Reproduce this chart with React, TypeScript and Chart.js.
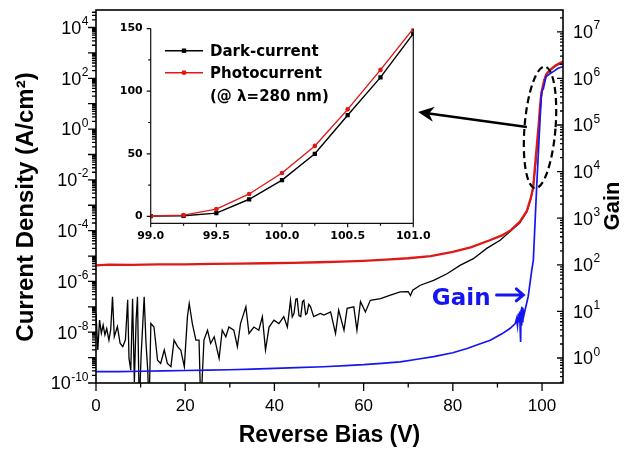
import React, { useEffect, useRef } from 'react';
import { Chart, registerables } from 'chart.js';

Chart.register(...registerables);

// ---------------- main plot data ----------------
const darkV = [
  0.0, 0.4, 0.8, 1.2, 1.6, 2.0, 2.4, 2.9, 3.3, 3.7,
  4.1, 4.8, 5.4, 6.0, 6.6, 7.1, 7.4, 7.8, 8.2, 8.6,
  9.0, 9.3, 9.7, 10.1, 10.8, 11.2, 11.6, 11.9, 12.3, 13.0,
  13.8, 14.5, 15.3, 16.0, 16.8, 17.5, 18.3, 19.0, 19.8, 20.5,
  20.9, 21.6, 22.4, 23.1, 23.5, 24.2, 25.0, 25.7, 26.5, 27.6,
  28.3, 29.1, 29.8, 30.9, 31.7, 32.4, 33.6, 34.3, 35.4, 36.5,
  37.3, 38.0, 38.8, 39.9, 41.0, 42.1, 42.9, 43.6, 44.0, 44.4,
  44.8, 45.1, 45.5, 45.9, 46.3, 46.6, 47.0, 47.3, 47.7, 48.1,
  48.8, 50.3, 51.1, 52.6, 53.7, 54.4, 55.6, 56.3, 57.8, 58.5,
  59.3, 60.4, 61.5, 63.8, 66.0, 68.2, 70.0, 70.5, 71.0, 72.7,
  75.7, 78.7, 81.7, 84.6, 87.6, 90.6, 93.2, 95.0, 96.6, 97.5,
  98.0, 98.5, 99.0, 99.25, 99.5, 99.75, 100.0, 100.25, 100.5, 100.75,
  101.0, 102.0, 103.0, 104.0, 104.8,
];
const darkJ = [
  5.5e-8, 2.0e-9, 3.0e-8, 9.1e-9, 1.9e-8, 7.8e-9, 1.4e-8, 4.9e-9, 1.26e-8, 2.5e-7,
  6.6e-9, 1.66e-8, 3.7e-9, 2.7e-9, 5.0e-9, 1.9e-7, 9.3e-10, 3.2e-10, 2.1e-7, 1.1e-10,
  3.2e-8, 2.5e-7, 1e-11, 1.07e-9, 2.5e-7, 4.0e-9, 3.2e-10, 1e-11, 2.2e-8, 1.6e-8,
  7.9e-10, 5.9e-10, 2.0e-9, 5.9e-10, 4.4e-10, 4.9e-9, 2.7e-9, 2.0e-9, 4.4e-10, 4.1e-8,
  1.35e-7, 2.2e-8, 4.9e-9, 4.9e-9, 1e-11, 4.9e-9, 1.2e-8, 3.6e-9, 6.6e-9, 9.3e-10,
  1.2e-8, 6.6e-9, 1.6e-8, 1.2e-8, 2.7e-9, 2.2e-8, 1.0e-7, 8.9e-9, 1.6e-8, 1.2e-8,
  4.1e-8, 2.0e-9, 1.6e-8, 3.0e-8, 2.2e-8, 4.1e-8, 1.6e-8, 1.8e-7, 4.0e-8, 5.5e-8,
  2.0e-7, 2.1e-7, 4.5e-8, 4.1e-8, 1.6e-7, 1.8e-7, 5.0e-8, 5.5e-8, 1.26e-7, 1.0e-7,
  4.1e-8, 5.5e-8, 4.7e-8, 6.3e-8, 8.9e-9, 7.4e-8, 1.2e-8, 8.7e-8, 1.0e-7, 1.2e-8,
  1.6e-7, 6.3e-8, 1.8e-7, 2.1e-7, 2.9e-7, 3.9e-7, 4.0e-7, 2.8e-7, 4.5e-7, 7.1e-7,
  1.1e-6, 2.0e-6, 4.4e-6, 7.9e-6, 2.0e-5, 4.2e-5, 1.05e-4, 2.0e-4, 5.6e-4, 1.8e-3,
  4.5e-3, 3.2e-2, 0.3, 1, 3, 14, 29, 50, 80, 111,
  145, 220, 300, 370, 430,
];

const photoV = [
  0, 3, 8, 14, 20, 26, 32, 38, 44, 50,
  55, 60, 65, 70, 75, 80, 84, 88, 91, 93,
  95, 96.6, 97.5, 98.0, 98.5, 99.0, 99.25, 99.5, 99.75, 100.0,
  100.25, 100.5, 100.75, 101.0, 102.0, 103.0, 104.0, 104.8,
];
const photoJ = [
  4.3e-6, 4.6e-6, 4.5e-6, 4.7e-6, 4.7e-6, 4.9e-6, 5.0e-6, 5.2e-6, 5.4e-6, 5.7e-6,
  6.0e-6, 6.5e-6, 7.2e-6, 8.2e-6, 1.0e-5, 1.45e-5, 2.2e-5, 4.0e-5, 6.5e-5, 1.05e-4,
  2.2e-4, 6.0e-4, 2.0e-3, 5.0e-3, 5.0e-2, 0.5, 1.5, 6, 18, 35,
  56, 85, 117, 150, 230, 320, 400, 460,
];

const gainV = [
  0, 5, 10, 15, 20, 25, 30, 35, 40, 45,
  51, 56, 60, 64, 68.2, 72, 75.7, 80, 83.2, 86,
  88.4, 91, 92.8, 94.0, 94.3, 94.5, 94.7, 94.9, 95.0, 95.1,
  95.2, 95.3, 95.4, 95.5, 95.6, 95.7, 95.9, 96.2, 96.9, 97.7,
  98.05, 98.8, 99.55, 99.9, 100.3, 100.9, 102.0, 103.6, 104.8,
];
const gainG = [
  0.51, 0.51, 0.52, 0.53, 0.54, 0.55, 0.56, 0.58, 0.60, 0.62,
  0.65, 0.69, 0.72, 0.77, 0.83, 0.94, 1.07, 1.3, 1.6, 2.0,
  2.4, 3.3, 4.3, 5.5, 7, 5, 9, 6, 10, 4,
  2.2, 11, 5, 12.6, 6, 12, 8, 10.7, 21, 77,
  126, 4.8e3, 1.3e5, 5.2e5, 6.0e5, 1.1e6, 1.3e6, 1.65e6, 1.8e6,
];

const xTicks = [0, 20, 40, 60, 80, 100];
const xMinorTicks = [10, 30, 50, 70, 90];
const leftLabelExps = [-10, -8, -6, -4, -2, 0, 2, 4];
const rightLabelExps = [0, 1, 2, 3, 4, 5, 6, 7];

// ---------------- inset data ----------------
const insetV = [99.0, 99.25, 99.5, 99.75, 100.0, 100.25, 100.5, 100.75, 101.0];
const insetDark = [0.2, 0.5, 2.6, 13.7, 29, 50, 80.8, 111, 146];
const insetPhoto = [0.3, 1.0, 5.8, 17.9, 34.7, 56.3, 85.5, 117, 150];
const insetXMinor = [99.25, 99.75, 100.25, 100.75];
const insetYMinor = [25, 75, 125];

// ---------------- annotations (in main-plot data units) ----------------
const ellipseAt = { v: 99.55, j: 1.16 };
const bigArrow = { from: { v: 96.6, j: 1.21 }, to: { v: 72.2, j: 4.7 } };
const gainLabelAt = { v: 75.3, j: 1.17e-7 };
const gainArrow = { from: { v: 89.8, j: 2.95e-7 }, to: { v: 95.8, j: 2.95e-7 } };

const BLUE = '#1515f2';
const RED = '#e01818';
const ARIAL = '"Liberation Sans", Arial, sans-serif';
const VERDANA = '"DejaVu Sans", Verdana, sans-serif';

function pts(xs: number[], ys: number[]) {
  return xs.map((x, i) => ({ x, y: ys[i] }));
}

function drawPow(ctx: CanvasRenderingContext2D, exp: number, x: number, y: number, align: 'left' | 'right') {
  const e = String(exp);
  ctx.font = `18px ${ARIAL}`;
  const bw = ctx.measureText('10').width;
  ctx.font = `12px ${ARIAL}`;
  const ew = ctx.measureText(e).width;
  const x0 = align === 'right' ? x - bw - ew - 0.5 : x;
  ctx.textAlign = 'left';
  ctx.textBaseline = 'alphabetic';
  ctx.fillStyle = '#000';
  ctx.font = `18px ${ARIAL}`;
  ctx.fillText('10', x0, y + 6.3);
  ctx.font = `12px ${ARIAL}`;
  ctx.fillText(e, x0 + bw + 0.5, y - 2.5);
}

const mainPlugin = {
  id: 'mainDecor',
  afterDraw(chart: any) {
    const { ctx, chartArea: a, scales } = chart;
    const xs = scales.x, yl = scales.y, yr = scales.y2;
    ctx.save();
    ctx.strokeStyle = '#000';
    ctx.lineWidth = 1.6;
    ctx.strokeRect(a.left, a.top, a.right - a.left, a.bottom - a.top);

    ctx.lineWidth = 1.3;
    ctx.beginPath();
    for (const v of xTicks) {
      const p = xs.getPixelForValue(v);
      ctx.moveTo(p, a.bottom); ctx.lineTo(p, a.bottom + 8);
    }
    for (const v of xMinorTicks) {
      const p = xs.getPixelForValue(v);
      ctx.moveTo(p, a.bottom); ctx.lineTo(p, a.bottom + 4.5);
    }
    // left axis: outward ticks
    for (let e = -11; e <= 5; e++) {
      for (let k = 1; k <= 9; k++) {
        const val = k * Math.pow(10, e);
        if (val < yl.min * 0.999 || val > yl.max) continue;
        const p = yl.getPixelForValue(val);
        const len = k === 1 ? 8 : 4;
        ctx.moveTo(a.left - len, p); ctx.lineTo(a.left, p);
      }
    }
    // right axis: inward ticks
    for (let e = -1; e <= 8; e++) {
      for (let k = 1; k <= 9; k++) {
        const val = k * Math.pow(10, e);
        if (val < yr.min || val > yr.max) continue;
        const p = yr.getPixelForValue(val);
        const len = k === 1 ? 6 : 3;
        ctx.moveTo(a.right - len, p); ctx.lineTo(a.right, p);
      }
    }
    ctx.stroke();

    for (const e of leftLabelExps) drawPow(ctx, e, 88.5, yl.getPixelForValue(Math.pow(10, e)), 'right');
    for (const e of rightLabelExps) drawPow(ctx, e, a.right + 10, yr.getPixelForValue(Math.pow(10, e)), 'left');

    // axis titles
    ctx.fillStyle = '#000';
    ctx.textAlign = 'center';
    ctx.textBaseline = 'middle';
    ctx.font = `bold 23px ${ARIAL}`;
    ctx.fillText('Reverse Bias (V)', (a.left + a.right) / 2, 436);
    ctx.save();
    ctx.translate(26, 207);
    ctx.rotate(-Math.PI / 2);
    ctx.font = `bold 24px ${ARIAL}`;
    ctx.fillText('Current Density (A/cm²)', 0, 0);
    ctx.restore();
    ctx.save();
    ctx.translate(613, 206);
    ctx.rotate(-Math.PI / 2);
    ctx.font = `bold 22px ${ARIAL}`;
    ctx.fillText('Gain', 0, 0);
    ctx.restore();

    // dashed ellipse
    const ex = xs.getPixelForValue(ellipseAt.v), ey = yl.getPixelForValue(ellipseAt.j);
    ctx.strokeStyle = '#000';
    ctx.lineWidth = 2.2;
    ctx.setLineDash([7, 4]);
    ctx.beginPath();
    ctx.ellipse(ex, ey, 15.5, 61, 0.08, 0, Math.PI * 2);
    ctx.stroke();
    ctx.setLineDash([]);

    // big black arrow
    const ax0 = xs.getPixelForValue(bigArrow.from.v), ay0 = yl.getPixelForValue(bigArrow.from.j);
    const ax1 = xs.getPixelForValue(bigArrow.to.v), ay1 = yl.getPixelForValue(bigArrow.to.j);
    const ang = Math.atan2(ay1 - ay0, ax1 - ax0);
    const hl = 16, hw = 7.5, notch = 11;
    const bx = ax1 - Math.cos(ang) * notch, by = ay1 - Math.sin(ang) * notch;
    ctx.lineWidth = 2.6;
    ctx.beginPath();
    ctx.moveTo(ax0, ay0); ctx.lineTo(bx, by);
    ctx.stroke();
    ctx.fillStyle = '#000';
    ctx.beginPath();
    ctx.moveTo(ax1, ay1);
    ctx.lineTo(ax1 - Math.cos(ang) * hl - Math.sin(ang) * hw, ay1 - Math.sin(ang) * hl + Math.cos(ang) * hw);
    ctx.lineTo(bx, by);
    ctx.lineTo(ax1 - Math.cos(ang) * hl + Math.sin(ang) * hw, ay1 - Math.sin(ang) * hl - Math.cos(ang) * hw);
    ctx.closePath();
    ctx.fill();

    // "Gain ->" label
    ctx.fillStyle = BLUE;
    ctx.strokeStyle = BLUE;
    ctx.font = `bold 23px ${VERDANA}`;
    ctx.textAlign = 'left';
    ctx.textBaseline = 'alphabetic';
    ctx.fillText('Gain', xs.getPixelForValue(gainLabelAt.v), yl.getPixelForValue(gainLabelAt.j));
    const gx0 = xs.getPixelForValue(gainArrow.from.v), gx1 = xs.getPixelForValue(gainArrow.to.v);
    const gy = yl.getPixelForValue(gainArrow.from.j);
    ctx.lineWidth = 3;
    ctx.lineCap = 'round';
    ctx.beginPath();
    ctx.moveTo(gx0, gy); ctx.lineTo(gx1, gy);
    ctx.moveTo(gx1 - 7, gy - 6); ctx.lineTo(gx1, gy); ctx.lineTo(gx1 - 7, gy + 6);
    ctx.stroke();
    ctx.restore();
  },
};

const insetPlugin = {
  id: 'insetDecor',
  afterDraw(chart: any) {
    const { ctx, chartArea: a, scales } = chart;
    const xs = scales.x, ys = scales.y;
    ctx.save();
    ctx.strokeStyle = '#111';
    ctx.lineWidth = 1.2;
    ctx.beginPath();
    ctx.moveTo(a.left, a.top); ctx.lineTo(a.left, a.bottom); ctx.lineTo(a.right, a.bottom); ctx.lineTo(a.right, a.top);
    for (const t of xs.ticks) {
      const p = xs.getPixelForValue(t.value);
      ctx.moveTo(p, a.bottom); ctx.lineTo(p, a.bottom + 4);
    }
    for (const v of insetXMinor) {
      const p = xs.getPixelForValue(v);
      ctx.moveTo(p, a.bottom); ctx.lineTo(p, a.bottom + 2.5);
    }
    for (const t of ys.ticks) {
      const p = ys.getPixelForValue(t.value);
      ctx.moveTo(a.left - 4, p); ctx.lineTo(a.left, p);
    }
    for (const v of insetYMinor) {
      const p = ys.getPixelForValue(v);
      ctx.moveTo(a.left - 2.5, p); ctx.lineTo(a.left, p);
    }
    ctx.stroke();

    // legend
    const order = ['Dark-current', 'Photocurrent'];
    const rowsY = [36.7, 58.7];
    ctx.font = `bold 15px ${VERDANA}`;
    ctx.textAlign = 'left';
    ctx.textBaseline = 'middle';
    order.forEach((label, i) => {
      const ds = chart.data.datasets.find((d: any) => d.label === label);
      const y = rowsY[i];
      ctx.strokeStyle = ds.borderColor;
      ctx.lineWidth = 1.6;
      ctx.beginPath();
      ctx.moveTo(65, y); ctx.lineTo(103, y);
      ctx.stroke();
      ctx.fillStyle = ds.borderColor;
      if (ds.pointStyle === 'rect') {
        ctx.fillRect(84 - 2.2, y - 2.2, 4.4, 4.4);
      } else {
        ctx.beginPath(); ctx.arc(84, y, 2.4, 0, Math.PI * 2); ctx.fill();
      }
      ctx.fillStyle = '#000';
      ctx.fillText(label, 110, y + 1);
    });
    ctx.fillText('(@ λ=280 nm)', 110, 83.5);
    ctx.restore();
  },
};

export default function App() {
  const mainRef = useRef<HTMLCanvasElement>(null);
  const insetRef = useRef<HTMLCanvasElement>(null);

  useEffect(() => {
    const main = new Chart(mainRef.current as HTMLCanvasElement, {
      type: 'line',
      data: {
        datasets: [
          { label: 'Gain', data: pts(gainV, gainG), borderColor: BLUE, borderWidth: 1.7, pointRadius: 0, yAxisID: 'y2', tension: 0 },
          { label: 'Photocurrent', data: pts(photoV, photoJ), borderColor: RED, borderWidth: 2.3, pointRadius: 0, yAxisID: 'y', tension: 0 },
          { label: 'Dark-current', data: pts(darkV, darkJ), borderColor: '#000', borderWidth: 1.3, pointRadius: 0, yAxisID: 'y', tension: 0 },
        ],
      },
      options: {
        responsive: false,
        animation: false,
        devicePixelRatio: 1,
        layout: { padding: { top: 10, left: 0, right: 0, bottom: 0 } },
        plugins: { legend: { display: false }, tooltip: { enabled: false } },
        scales: {
          x: {
            type: 'linear', min: 0, max: 104.7,
            ticks: { stepSize: 20, includeBounds: false, font: { family: ARIAL, size: 17 }, color: '#000', padding: 13, maxRotation: 0, autoSkip: false },
            grid: { display: false, drawTicks: false }, border: { display: false },
            afterFit: (s: any) => { s.height = 66; },
          },
          y: {
            type: 'logarithmic', position: 'left', min: 1e-10, max: 4.9e4,
            ticks: { display: false }, grid: { display: false, drawTicks: false }, border: { display: false },
            afterFit: (s: any) => { s.width = 96; },
          },
          y2: {
            type: 'logarithmic', position: 'right', min: 0.291, max: 2.94e7,
            ticks: { display: false }, grid: { display: false, drawTicks: false }, border: { display: false },
            afterFit: (s: any) => { s.width = 65; },
          },
        },
      } as any,
      plugins: [mainPlugin],
    });

    const inset = new Chart(insetRef.current as HTMLCanvasElement, {
      type: 'line',
      data: {
        datasets: [
          { label: 'Photocurrent', data: pts(insetV, insetPhoto), borderColor: RED, backgroundColor: RED, borderWidth: 1.4, pointStyle: 'circle', pointRadius: 2.3, pointBorderWidth: 0, tension: 0 },
          { label: 'Dark-current', data: pts(insetV, insetDark), borderColor: '#000', backgroundColor: '#000', borderWidth: 1.4, pointStyle: 'rect', pointRadius: 3, pointBorderWidth: 0, tension: 0 },
        ],
      },
      options: {
        responsive: false,
        animation: false,
        devicePixelRatio: 1,
        layout: { padding: { top: 12.7, left: 0, right: 26.7, bottom: 0 } },
        plugins: { legend: { display: false }, tooltip: { enabled: false } },
        scales: {
          x: {
            type: 'linear', min: 99, max: 101,
            ticks: { stepSize: 0.5, callback: (v: any) => Number(v).toFixed(1), font: { family: VERDANA, weight: 'bold', size: 11 }, color: '#000', padding: 6.5, maxRotation: 0, autoSkip: false },
            grid: { display: false, drawTicks: false }, border: { display: false },
            afterFit: (s: any) => { s.height = 22.7; },
          },
          y: {
            type: 'linear', min: -5.5, max: 150,
            ticks: { stepSize: 50, includeBounds: false, font: { family: VERDANA, weight: 'bold', size: 11 }, color: '#000', padding: 8 },
            grid: { display: false, drawTicks: false }, border: { display: false },
            afterFit: (s: any) => { s.width = 50.7; },
          },
        },
      } as any,
      plugins: [insetPlugin],
    });

    return () => { main.destroy(); inset.destroy(); };
  }, []);

  return (
    <div style={{ position: 'absolute', left: 0, top: 0, width: 628, height: 449, background: '#fff' }}>
      <canvas ref={mainRef} width={628} height={449} style={{ position: 'absolute', left: 0, top: 0, width: 628, height: 449 }} />
      <canvas ref={insetRef} width={340} height={232} style={{ position: 'absolute', left: 100, top: 14, width: 340, height: 232 }} />
    </div>
  );
}
